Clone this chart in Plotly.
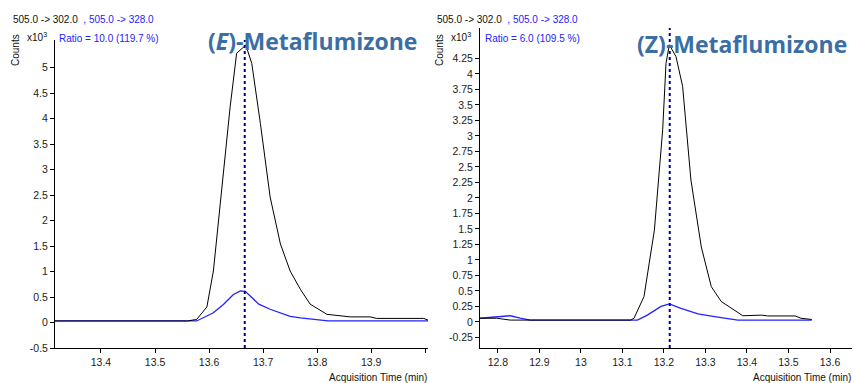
import plotly.graph_objects as go

# ---- data ----
e_black_t = [13.315, 13.40, 13.50, 13.56, 13.577, 13.596, 13.608, 13.627, 13.639, 13.651, 13.668,
             13.679, 13.695, 13.713, 13.732, 13.75, 13.769, 13.787, 13.818, 13.861, 13.898, 13.91,
             13.95, 13.997, 14.009]
e_black_y = [0.03, 0.03, 0.03, 0.03, 0.06, 0.305, 1.01, 2.92, 4.23, 5.28, 5.44,
             5.08, 3.9, 2.46, 1.54, 1.01, 0.65, 0.36, 0.16, 0.11, 0.11, 0.08,
             0.08, 0.08, 0.03]
e_blue_t = [13.315, 13.577, 13.608, 13.627, 13.645, 13.658, 13.667, 13.692, 13.713, 13.738, 13.75,
            13.769, 13.793, 13.82, 14.009]
e_blue_y = [0.03, 0.03, 0.19, 0.36, 0.55, 0.62, 0.61, 0.36, 0.26, 0.16, 0.12,
            0.09, 0.06, 0.03, 0.03]

z_black_t = [12.757, 12.797, 12.83, 13.0, 13.12, 13.128, 13.152, 13.177, 13.197, 13.205, 13.213,
             13.229, 13.245, 13.265, 13.29, 13.314, 13.338, 13.39, 13.435, 13.45, 13.516, 13.53, 13.556]
z_black_y = [0.06, 0.06, 0.03, 0.03, 0.03, 0.06, 0.41, 1.48, 3.1, 4.17, 4.47,
             4.28, 3.8, 2.29, 1.21, 0.57, 0.33, 0.1, 0.11, 0.097, 0.097, 0.06, 0.04]
z_blue_t = [12.757, 12.797, 12.83, 12.854, 12.878, 13.136, 13.16, 13.193, 13.213, 13.241, 13.282,
            13.322, 13.346, 13.378, 13.556]
z_blue_y = [0.06, 0.08, 0.1, 0.06, 0.03, 0.03, 0.11, 0.25, 0.29, 0.22, 0.13,
            0.086, 0.06, 0.03, 0.03]

e_rt = 13.666
z_rt = 13.214

e_xticks = [13.4, 13.5, 13.6, 13.7, 13.8, 13.9, 14.0]
e_xlabels = ["13.4", "13.5", "13.6", "13.7", "13.8", "13.9", ""]
e_yticks = [-0.5, 0, 0.5, 1, 1.5, 2, 2.5, 3, 3.5, 4, 4.5, 5]
e_ylabels = ["-0.5", "0", "0.5", "1", "1.5", "2", "2.5", "3", "3.5", "4", "4.5", "5"]
z_xticks = [12.8, 12.9, 13.0, 13.1, 13.2, 13.3, 13.4, 13.5, 13.6]
z_xlabels = ["12.8", "12.9", "13", "13.1", "13.2", "13.3", "13.4", "13.5", "13.6"]
z_yticks = [-0.25, 0, 0.25, 0.5, 0.75, 1, 1.25, 1.5, 1.75, 2, 2.25, 2.5, 2.75, 3, 3.25, 3.5,
            3.75, 4, 4.25]
z_ylabels = ["-0.25", "0", "0.25", "0.5", "0.75", "1", "1.25", "1.5", "1.75", "2", "2.25", "2.5",
             "2.75", "3", "3.25", "3.5", "3.75", "4", "4.25"]

BLACK = "#000000"
BLUE = "#2323ff"
DASH = "#00008b"
TITLE_C = "#3a6ea5"
FONT = "Arial"
W, H = 854, 383

fig = go.Figure()
fig.add_trace(go.Scatter(x=e_blue_t, y=e_blue_y, mode="lines", line=dict(color=BLUE, width=1.3),
                         xaxis="x", yaxis="y", showlegend=False))
fig.add_trace(go.Scatter(x=e_black_t, y=e_black_y, mode="lines", line=dict(color=BLACK, width=1),
                         xaxis="x", yaxis="y", showlegend=False))
fig.add_trace(go.Scatter(x=z_blue_t, y=z_blue_y, mode="lines", line=dict(color=BLUE, width=1.3),
                         xaxis="x2", yaxis="y2", showlegend=False))
fig.add_trace(go.Scatter(x=z_black_t, y=z_black_y, mode="lines", line=dict(color=BLACK, width=1),
                         xaxis="x2", yaxis="y2", showlegend=False))

fig.add_shape(type="line", xref="x", yref="y domain", x0=e_rt, x1=e_rt, y0=0, y1=1,
              line=dict(color=DASH, width=2, dash="dot"))
fig.add_shape(type="line", xref="x2", yref="y2 domain", x0=z_rt, x1=z_rt, y0=0, y1=1,
              line=dict(color=DASH, width=2, dash="dot"))

tickfont = dict(family=FONT, size=10.5, color="#222222")
axcommon = dict(showgrid=False, zeroline=False, showline=True, linecolor="black", linewidth=1,
                ticks="outside", ticklen=4, tickcolor="black", tickfont=tickfont, automargin=False)

def px(x):
    return x / W

def py(y):
    return 1 - y / H

fig.update_layout(
    width=W, height=H, margin=dict(l=0, r=0, t=0, b=0, autoexpand=False),
    paper_bgcolor="white", plot_bgcolor="white",
    xaxis=dict(domain=[px(55), px(428)], range=[13.315, 14.005], anchor="y",
               tickvals=e_xticks, ticktext=e_xlabels, **axcommon),
    yaxis=dict(domain=[py(348), py(40)], range=[-0.5, 5.54], anchor="x",
               tickvals=e_yticks, ticktext=e_ylabels, **axcommon),
    xaxis2=dict(domain=[px(480), px(852)], range=[12.757, 13.653], anchor="y2",
                tickvals=z_xticks, ticktext=z_xlabels, **axcommon),
    yaxis2=dict(domain=[py(348), py(28)], range=[-0.42, 4.74], anchor="x2",
                tickvals=z_yticks, ticktext=z_ylabels, **axcommon),
)

small = dict(family=FONT, size=10, color="#111111")
blue_small = dict(family=FONT, size=10, color=BLUE)

def ann(text, x, y, font, xanchor="left", yanchor="middle", textangle=0):
    fig.add_annotation(text=text, x=px(x), y=py(y), xref="paper", yref="paper",
                       xanchor=xanchor, yanchor=yanchor, showarrow=False, font=font,
                       textangle=textangle)

for x0 in [11, 435]:
    ann("505.0 -&gt; 302.0 <span style='color:%s'> , 505.0 -&gt; 328.0</span>" % BLUE, x0, 19, small)
    ann("x10<sup>3</sup>", x0 + 14, 37, small)
    ann("Counts", x0 + 5, 50, dict(family=FONT, size=10, color="#111111"), xanchor="center",
        textangle=-90)

ann("Ratio = 10.0 (119.7 %)", 57, 38, blue_small)
ann("Ratio = 6.0 (109.5 %)", 483, 38, blue_small)

ann("Acquisition Time (min)", 429, 377, small, xanchor="right")
ann("Acquisition Time (min)", 853, 377, small, xanchor="right")

titlefont = dict(family="Open Sans", size=23, color=TITLE_C)
ann("<b>(<i>E</i>)-Metaflumizone</b>", 312, 41, titlefont, xanchor="center")
ann("<b>(Z)-Metaflumizone</b>", 742, 44, titlefont, xanchor="center")

fig.write_html("out.html", config={"displayModeBar": False},
               post_script="document.body.style.margin='0';document.body.style.overflow='hidden';")
